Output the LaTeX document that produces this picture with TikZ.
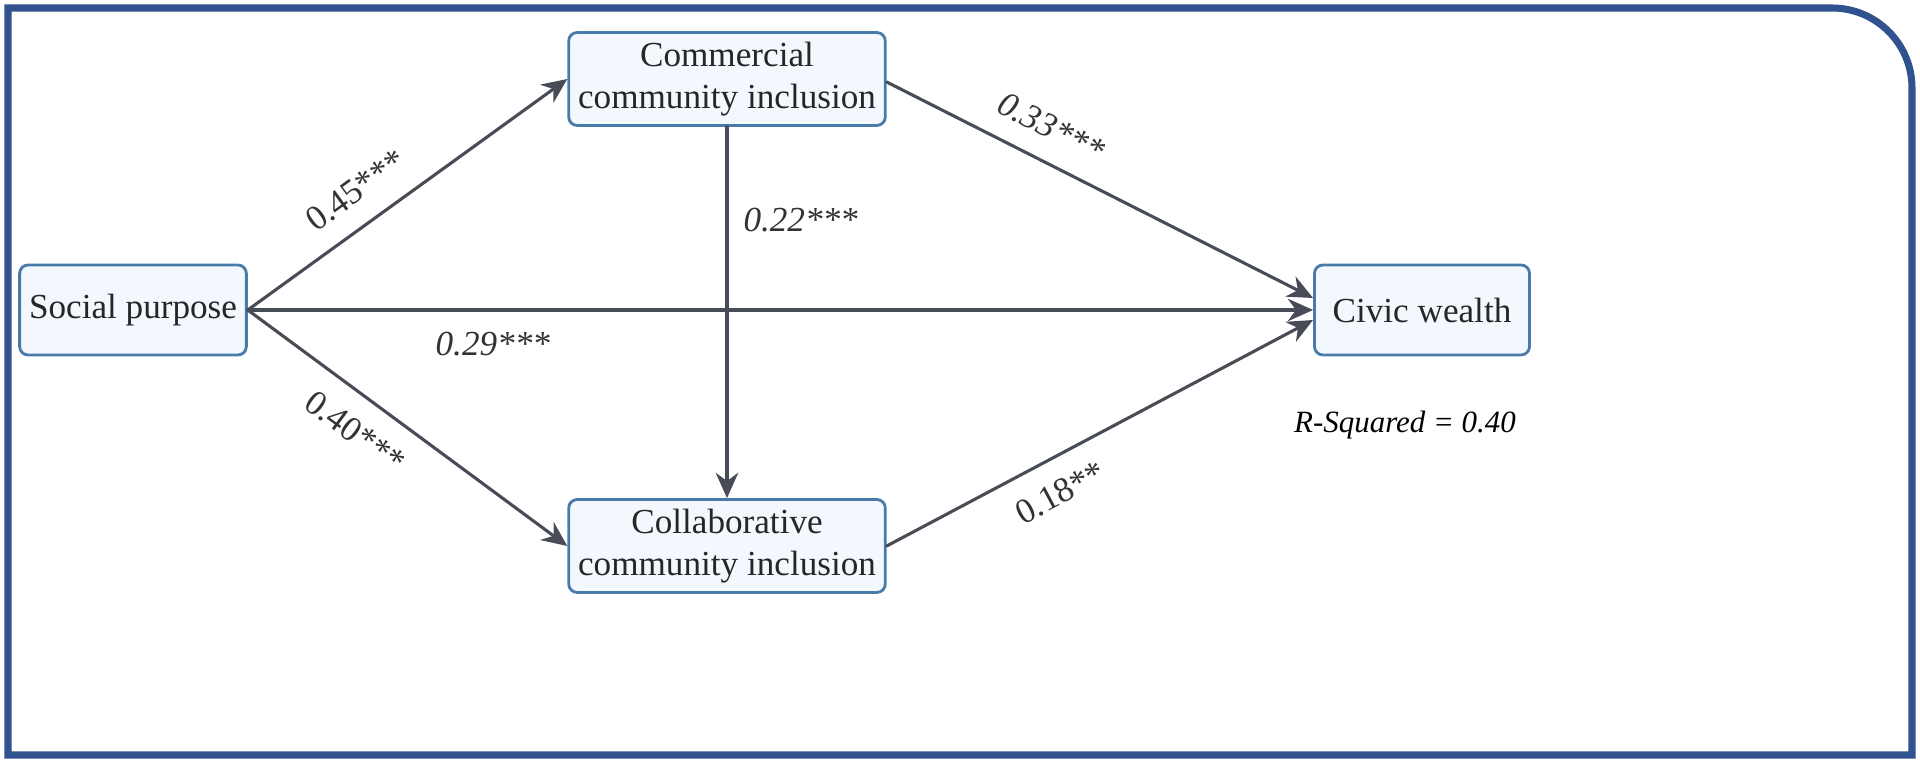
\documentclass[tikz,border=0pt]{standalone}
\usepackage{fontspec}
\setmainfont{Liberation Serif}
\usepackage{xcolor}
\definecolor{myframe}{RGB}{48,82,142}
\definecolor{myedge}{RGB}{72,122,170}
\definecolor{myfill}{RGB}{242,248,253}
\definecolor{mygray}{RGB}{72,76,86}
\usetikzlibrary{arrows.meta}

\begin{document}
\begin{tikzpicture}[x=0.0125cm,y=-0.0125cm,line cap=round]
	\tikzstyle{box}=[draw=myedge,fill=myfill,rounded corners=3pt,line width=1pt,align=center,font=\fontsize{12.5}{15}\selectfont,text=black!85];
	\tikzstyle{path}=[-{Stealth[length=9pt,width=8pt]},mygray,line width=1.1pt];
	\tikzstyle{coef}=[font=\fontsize{12.5}{15}\selectfont,text=black!80];
	\useasboundingbox (0,0) rectangle (1920,762);
	%% Frame
	\draw[myframe,line width=2.5pt] (8,8) -- (1832,8) arc (-90:0:80) -- (1912,755) -- (8,755) -- cycle;
	%% Variables
	\node[box,minimum width=215*0.0125cm,minimum height=90*0.0125cm] (sp) at (133,310) {Social purpose};
	\node[box,minimum width=258*0.0125cm,minimum height=92*0.0125cm] (cm) at (727,79) {Commercial\\community inclusion};
	\node[box,minimum width=258*0.0125cm,minimum height=92*0.0125cm] (cl) at (727,546) {Collaborative\\community inclusion};
	\node[box,minimum width=215*0.0125cm,minimum height=90*0.0125cm] (cw) at (1422,310) {Civic wealth};
	\coordinate (cwa) at ([yshift=12*0.0125cm]cw.west);
	\coordinate (cwb) at ([yshift=-10*0.0125cm]cw.west);
	%% Paths
	\draw[path] (sp.east) -- (cm.west) node[coef,pos=0.4,sloped,above=4pt]{0.45***};
	\draw[path] (sp.east) -- (cl.west) node[coef,pos=0.4,sloped,below=4pt]{0.40***};
	\draw[path] (sp.east) -- (cw.west) node[coef,pos=0.23,below=4pt]{\itshape 0.29***};
	\draw[path] (cm.south) -- (cl.north) node[coef,pos=0.25,right=2pt]{\itshape 0.22***};
	\draw[path] ([yshift=-3*0.0125cm]cm.east) -- (cwa) node[coef,pos=0.35,sloped,above=4pt]{\itshape 0.33***};
	\draw[path] (cl.east) -- (cwb) node[coef,pos=0.37,sloped,below=4pt]{0.18**};
	%% Fit
	\node[font=\itshape\fontsize{11}{13}\selectfont] (rsq) at (1405,425) {R-Squared = 0.40};
\end{tikzpicture}
\end{document}
